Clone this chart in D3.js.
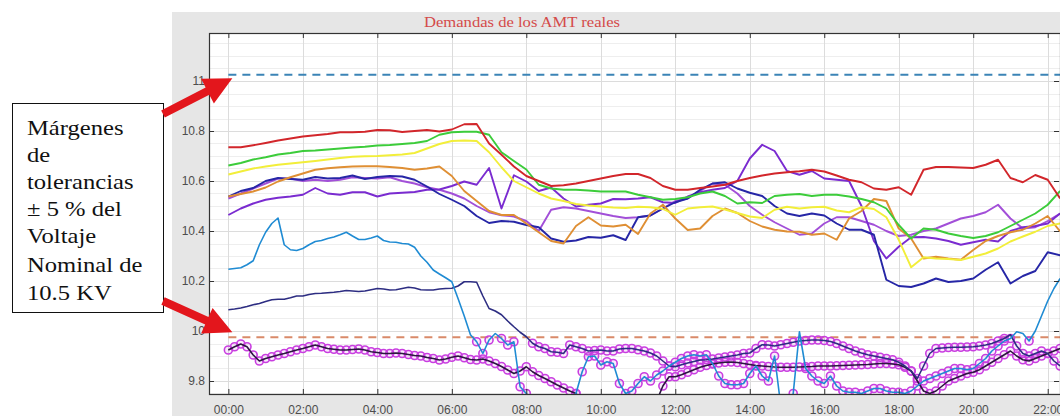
<!DOCTYPE html>
<html><head><meta charset="utf-8">
<script src="https://cdn.jsdelivr.net/npm/d3@7"></script>
<style>html,body{margin:0;padding:0;background:#fff}svg{display:block}</style>
</head><body>
<svg id="chart" width="1060" height="416"></svg>
<script>
// Feeder voltages (kV). Upper feeders sampled every 20 min, lower feeders every 10 min.
const hourTicks = [0, 2, 4, 6, 8, 10, 12, 14, 16, 18, 20, 22];
const voltTicks = [9.8, 10, 10.2, 10.4, 10.6, 10.8, 11];
const nominalKV = 10.5;
const tolerance = 0.05;

const redSeries = [10.735,10.735,10.743,10.752,10.762,10.77,10.778,10.783,10.788,10.795,10.795,10.797,10.804,10.803,10.796,10.8,10.804,10.798,10.806,10.827,10.828,10.75,10.705,10.658,10.62,10.6,10.58,10.583,10.59,10.6,10.61,10.62,10.628,10.628,10.612,10.58,10.565,10.565,10.572,10.578,10.585,10.6,10.612,10.622,10.63,10.635,10.639,10.645,10.638,10.622,10.605,10.595,10.57,10.565,10.575,10.545,10.645,10.656,10.656,10.654,10.652,10.665,10.685,10.612,10.595,10.624,10.605,10.53];
const greenSeries = [10.662,10.672,10.686,10.695,10.706,10.712,10.72,10.722,10.726,10.73,10.734,10.737,10.742,10.744,10.748,10.752,10.76,10.785,10.795,10.797,10.797,10.785,10.715,10.68,10.646,10.585,10.57,10.565,10.565,10.562,10.558,10.558,10.558,10.545,10.535,10.525,10.528,10.535,10.55,10.558,10.54,10.51,10.515,10.512,10.54,10.545,10.548,10.54,10.545,10.545,10.538,10.528,10.515,10.49,10.424,10.37,10.41,10.405,10.39,10.38,10.372,10.38,10.395,10.42,10.445,10.47,10.505,10.56];
const yellowSeries = [10.626,10.638,10.65,10.658,10.665,10.67,10.675,10.68,10.686,10.692,10.697,10.699,10.7,10.703,10.706,10.712,10.73,10.748,10.76,10.762,10.76,10.715,10.655,10.6,10.575,10.55,10.53,10.52,10.508,10.502,10.498,10.494,10.492,10.497,10.495,10.488,10.465,10.49,10.495,10.498,10.486,10.472,10.458,10.452,10.485,10.497,10.49,10.495,10.497,10.482,10.475,10.495,10.488,10.455,10.365,10.255,10.295,10.29,10.288,10.284,10.297,10.31,10.33,10.358,10.378,10.397,10.42,10.43];
const orangeSeries = [10.538,10.548,10.558,10.574,10.598,10.615,10.63,10.645,10.651,10.655,10.658,10.659,10.659,10.656,10.652,10.645,10.65,10.658,10.62,10.56,10.52,10.48,10.464,10.464,10.43,10.395,10.36,10.35,10.42,10.455,10.422,10.418,10.425,10.388,10.47,10.505,10.45,10.404,10.41,10.46,10.49,10.472,10.44,10.418,10.405,10.398,10.397,10.385,10.39,10.365,10.45,10.48,10.528,10.52,10.41,10.37,10.29,10.297,10.29,10.285,10.324,10.36,10.38,10.395,10.405,10.43,10.46,10.398];
const navySeries = [10.538,10.56,10.572,10.6,10.612,10.608,10.605,10.616,10.61,10.612,10.622,10.608,10.616,10.62,10.618,10.605,10.578,10.548,10.525,10.5,10.46,10.432,10.44,10.437,10.424,10.415,10.37,10.357,10.362,10.376,10.373,10.383,10.364,10.455,10.462,10.49,10.515,10.53,10.565,10.59,10.595,10.57,10.553,10.54,10.5,10.47,10.46,10.47,10.462,10.43,10.405,10.405,10.385,10.205,10.18,10.176,10.19,10.21,10.196,10.2,10.21,10.245,10.275,10.19,10.22,10.24,10.315,10.303];
const purpleSeries = [10.464,10.49,10.51,10.525,10.533,10.538,10.545,10.572,10.55,10.545,10.555,10.555,10.538,10.55,10.553,10.556,10.565,10.566,10.58,10.598,10.585,10.652,10.49,10.623,10.598,10.56,10.574,10.53,10.498,10.505,10.51,10.528,10.527,10.53,10.535,10.515,10.512,10.538,10.555,10.565,10.572,10.6,10.69,10.745,10.72,10.64,10.625,10.64,10.61,10.605,10.6,10.5,10.36,10.29,10.337,10.375,10.376,10.37,10.36,10.345,10.355,10.365,10.358,10.4,10.415,10.42,10.43,10.47];
const lilacSeries = [10.53,10.55,10.57,10.59,10.61,10.61,10.6,10.605,10.6,10.605,10.615,10.612,10.61,10.615,10.6,10.59,10.575,10.565,10.55,10.53,10.5,10.475,10.463,10.458,10.44,10.4,10.485,10.495,10.49,10.48,10.47,10.46,10.452,10.455,10.462,10.49,10.52,10.53,10.56,10.59,10.585,10.55,10.5,10.465,10.435,10.41,10.385,10.39,10.43,10.455,10.455,10.44,10.425,10.4,10.38,10.385,10.4,10.41,10.43,10.45,10.46,10.475,10.505,10.45,10.41,10.415,10.44,10.47];

const skyBlueSeries = [10.247,10.25,10.253,10.265,10.281,10.345,10.395,10.43,10.452,10.345,10.325,10.322,10.33,10.345,10.358,10.362,10.37,10.376,10.385,10.395,10.38,10.366,10.366,10.372,10.38,10.362,10.356,10.355,10.35,10.348,10.335,10.3,10.275,10.244,10.228,10.213,10.197,10.13,10.06,9.985,9.957,9.91,9.964,9.99,9.97,9.944,9.957,9.777,9.75,9.72,9.7,9.7,9.7,9.7,9.7,9.72,9.75,9.837,9.897,9.9,9.864,9.877,9.87,9.79,9.75,9.76,9.79,9.817,9.8,9.824,9.84,9.86,9.875,9.89,9.9,9.905,9.9,9.905,9.87,9.82,9.79,9.785,9.785,9.79,9.83,9.86,9.82,9.8,9.9,9.7,9.7,9.75,9.997,9.85,9.82,9.8,9.79,9.82,9.78,9.76,9.755,9.755,9.75,9.76,9.77,9.77,9.76,9.755,9.755,9.75,9.76,9.78,9.8,9.81,9.82,9.83,9.84,9.85,9.85,9.845,9.85,9.87,9.89,9.92,9.94,9.96,9.97,9.997,9.99,9.96,10.0,10.06,10.12,10.17,10.21];
const slateSeries = [10.085,10.088,10.092,10.098,10.105,10.11,10.118,10.125,10.127,10.127,10.133,10.14,10.14,10.146,10.15,10.151,10.153,10.155,10.158,10.162,10.16,10.158,10.16,10.165,10.17,10.168,10.164,10.165,10.17,10.175,10.172,10.165,10.164,10.164,10.168,10.17,10.171,10.18,10.197,10.197,10.195,10.14,10.09,10.08,10.065,10.04,10.017,9.995,9.977,9.951,9.937,9.93,9.917,9.915,9.91,9.944,9.937,9.93,9.92,9.922,9.924,9.92,9.92,9.928,9.93,9.93,9.925,9.92,9.912,9.9,9.88,9.86,9.857,9.865,9.872,9.878,9.884,9.885,9.888,9.892,9.896,9.9,9.904,9.91,9.912,9.93,9.945,9.944,9.94,9.945,9.95,9.955,9.96,9.962,9.964,9.964,9.962,9.958,9.95,9.94,9.93,9.92,9.912,9.905,9.9,9.895,9.89,9.885,9.875,9.86,9.84,9.81,9.86,9.91,9.93,9.932,9.934,9.935,9.935,9.936,9.937,9.94,9.944,9.95,9.96,9.97,9.985,9.94,9.91,9.9,9.91,9.92,9.91,9.88,9.86];
const darkSeries = [9.924,9.937,9.948,9.937,9.904,9.88,9.89,9.897,9.904,9.91,9.917,9.924,9.93,9.937,9.944,9.937,9.93,9.927,9.924,9.924,9.926,9.928,9.924,9.917,9.914,9.91,9.91,9.912,9.91,9.906,9.902,9.9,9.894,9.89,9.884,9.888,9.895,9.9,9.893,9.886,9.884,9.888,9.88,9.87,9.858,9.844,9.83,9.84,9.857,9.837,9.822,9.81,9.797,9.784,9.772,9.76,9.75,9.72,9.7,9.7,9.7,9.7,9.7,9.7,9.7,9.7,9.7,9.7,9.7,9.72,9.78,9.817,9.817,9.825,9.835,9.845,9.855,9.862,9.868,9.872,9.875,9.876,9.874,9.87,9.866,9.862,9.86,9.858,9.856,9.855,9.855,9.855,9.856,9.857,9.858,9.86,9.86,9.86,9.861,9.862,9.863,9.864,9.865,9.866,9.868,9.87,9.87,9.868,9.865,9.855,9.84,9.8,9.76,9.75,9.76,9.78,9.8,9.81,9.82,9.83,9.835,9.845,9.86,9.875,9.89,9.905,9.92,9.9,9.885,9.88,9.89,9.9,9.91,9.92,9.93];

const upperLimit = nominalKV * (1 + tolerance);
const lowerLimit = nominalKV * (1 - tolerance);

const upperFeeders = [
  {values: lilacSeries,  step: 20, color: '#a24fd8'},
  {values: purpleSeries, step: 20, color: '#7a2bd0'},
  {values: navySeries,   step: 20, color: '#2626a6'},
  {values: orangeSeries, step: 20, color: '#df8f34'},
  {values: yellowSeries, step: 20, color: '#f2ee3a'},
  {values: greenSeries,  step: 20, color: '#3ccc3a'},
  {values: redSeries,    step: 20, color: '#d2262b'}
];
const lowerFeeders = [
  {values: darkSeries,    step: 10, color: '#2c1640'},
  {values: slateSeries,   step: 10, color: '#2d2d82'},
  {values: skyBlueSeries, step: 10, color: '#1f8bd3'}
];

const W = 1060, H = 416;
const plot = {left: 209, right: 1060, top: 33, bottom: 394};
const svg = d3.select('#chart');

const x = d3.scaleLinear().domain([-0.52, 22.33]).range([plot.left, plot.right]);
const y = d3.scaleLinear().domain([9.748, 11.192]).range([plot.bottom, plot.top]);

// figure panel and axes background
svg.append('rect').attr('x', 172).attr('y', 12).attr('width', W - 172).attr('height', H - 12).attr('fill', '#e6e6e6');
svg.append('rect').attr('x', plot.left).attr('y', plot.top)
  .attr('width', plot.right - plot.left).attr('height', plot.bottom - plot.top).attr('fill', '#ffffff');

svg.append('defs').append('clipPath').attr('id', 'plotClip')
  .append('rect').attr('x', plot.left).attr('y', plot.top)
  .attr('width', plot.right - plot.left).attr('height', plot.bottom - plot.top);

// grid
const grid = svg.append('g');
grid.selectAll('line.minor').data(d3.range(9.75, 11.19, 0.05)).join('line')
  .attr('x1', plot.left).attr('x2', plot.right)
  .attr('y1', d => Math.round(y(d)) + 0.5).attr('y2', d => Math.round(y(d)) + 0.5)
  .attr('stroke', '#eeeeee').attr('stroke-width', 1);
grid.selectAll('line.major').data(voltTicks).join('line')
  .attr('x1', plot.left).attr('x2', plot.right)
  .attr('y1', d => Math.round(y(d)) + 0.5).attr('y2', d => Math.round(y(d)) + 0.5)
  .attr('stroke', '#dcdcdc').attr('stroke-width', 1);
grid.selectAll('line.vert').data(hourTicks).join('line')
  .attr('x1', d => Math.round(x(d)) + 0.5).attr('x2', d => Math.round(x(d)) + 0.5)
  .attr('y1', plot.top).attr('y2', plot.bottom)
  .attr('stroke', '#dcdcdc').attr('stroke-width', 1);

const plotArea = svg.append('g').attr('clip-path', 'url(#plotClip)');

// tolerance limits
const limits = [
  {v: upperLimit, color: '#3b84b6'},
  {v: lowerLimit, color: '#d98a6a'}
];
plotArea.selectAll('line.limit').data(limits).join('line')
  .attr('x1', x(0)).attr('x2', plot.right)
  .attr('y1', d => y(d.v)).attr('y2', d => y(d.v))
  .attr('stroke', d => d.color).attr('stroke-width', 1.8)
  .attr('stroke-dasharray', '8,6');

const lineFor = step => d3.line()
  .x((d, i) => x(i * step / 60))
  .y(d => y(d));

upperFeeders.forEach(f => {
  plotArea.append('path').datum(f.values)
    .attr('d', lineFor(f.step))
    .attr('fill', 'none').attr('stroke', f.color)
    .attr('stroke-width', 1.9).attr('stroke-linejoin', 'round');
});

// points outside the lower tolerance are ringed
lowerFeeders.forEach(f => {
  const pts = f.values.map((v, i) => ({t: i * f.step / 60, v})).filter(p => p.v < lowerLimit);
  plotArea.append('g').selectAll('circle').data(pts).join('circle')
    .attr('cx', p => x(p.t)).attr('cy', p => y(p.v)).attr('r', 4)
    .attr('fill', 'rgba(214,90,230,0.12)').attr('stroke', '#c93ee0').attr('stroke-width', 1.6);
});

lowerFeeders.forEach(f => {
  plotArea.append('path').datum(f.values)
    .attr('d', lineFor(f.step))
    .attr('fill', 'none').attr('stroke', f.color)
    .attr('stroke-width', 1.6).attr('stroke-linejoin', 'round');
});

// axes box
svg.append('rect').attr('x', plot.left + 0.5).attr('y', plot.top + 0.5)
  .attr('width', plot.right - plot.left).attr('height', plot.bottom - plot.top)
  .attr('fill', 'none').attr('stroke', '#333333').attr('stroke-width', 1.2);

const tickFont = g => {
  g.select('.domain').remove();
  g.selectAll('.tick line').attr('stroke', '#333333').attr('stroke-width', 1);
  g.selectAll('.tick text').attr('fill', '#4d4d4d')
    .style('font-family', '"Liberation Sans", Arial, sans-serif').style('font-size', '12px');
};

svg.append('g').attr('transform', `translate(0,${plot.bottom})`)
  .call(d3.axisBottom(x).tickValues(hourTicks)
    .tickFormat(h => String(h).padStart(2, '0') + ':00')
    .tickSizeInner(-5).tickSizeOuter(0).tickPadding(11))
  .call(tickFont);
svg.append('g').attr('transform', `translate(0,${plot.top})`)
  .call(d3.axisTop(x).tickValues(hourTicks).tickFormat('').tickSizeInner(-5).tickSizeOuter(0))
  .call(tickFont);
svg.append('g').attr('transform', `translate(${plot.left},0)`)
  .call(d3.axisLeft(y).tickValues(voltTicks).tickFormat(d => String(+d.toFixed(1)))
    .tickSizeInner(-5).tickSizeOuter(0).tickPadding(4))
  .call(tickFont);
svg.append('g').attr('transform', `translate(${plot.right - 1},0)`)
  .call(d3.axisRight(y).tickValues(voltTicks).tickFormat('').tickSizeInner(-5).tickSizeOuter(0))
  .call(tickFont);

// title
svg.append('text').attr('x', 522).attr('y', 27).attr('text-anchor', 'middle')
  .attr('fill', '#d44a4a')
  .style('font-family', '"Liberation Serif", "DejaVu Serif", serif').style('font-size', '14px')
  .attr('textLength', 196).attr('lengthAdjust', 'spacingAndGlyphs')
  .text('Demandas de los AMT reales');

// annotation box
const box = {x: 12, y: 103, w: 151, h: 209};
svg.append('rect').attr('x', box.x + 0.5).attr('y', box.y + 0.5).attr('width', box.w).attr('height', box.h)
  .attr('fill', '#ffffff').attr('stroke', '#111111').attr('stroke-width', 1);
const noteLines = ['Márgenes', 'de', 'tolerancias', '± 5 % del', 'Voltaje', 'Nominal de', '10.5 KV'];
const noteBase = [135, 162, 189, 216, 243, 272, 300];
noteLines.forEach((s, i) => {
  svg.append('text').attr('transform', `translate(27,${noteBase[i]}) scale(1.2,1)`)
    .attr('fill', '#111111')
    .style('font-family', '"Liberation Serif", "Times New Roman", serif').style('font-size', '20.5px')
    .text(s);
});

// arrows from the note to the two limits
function arrow(sx, sy, tx, ty) {
  const dx = tx - sx, dy = ty - sy, len = Math.hypot(dx, dy);
  const ux = dx / len, uy = dy / len, nx = -uy, ny = ux;
  const shaft = 4, head = 14, hl = 28;
  const bx = tx - ux * hl, by = ty - uy * hl;
  const pts = [
    [sx + nx * shaft, sy + ny * shaft], [bx + nx * shaft, by + ny * shaft],
    [bx + nx * head, by + ny * head], [tx, ty],
    [bx - nx * head, by - ny * head], [bx - nx * shaft, by - ny * shaft],
    [sx - nx * shaft, sy - ny * shaft]
  ];
  svg.append('polygon').attr('points', pts.map(p => p.join(',')).join(' ')).attr('fill', '#e3161c');
}
arrow(box.x + box.w, 114, x(0) + 4, y(upperLimit) + 3.5);
arrow(box.x + box.w, 301, x(0) + 4, y(lowerLimit) - 5);
</script>
</body></html>
